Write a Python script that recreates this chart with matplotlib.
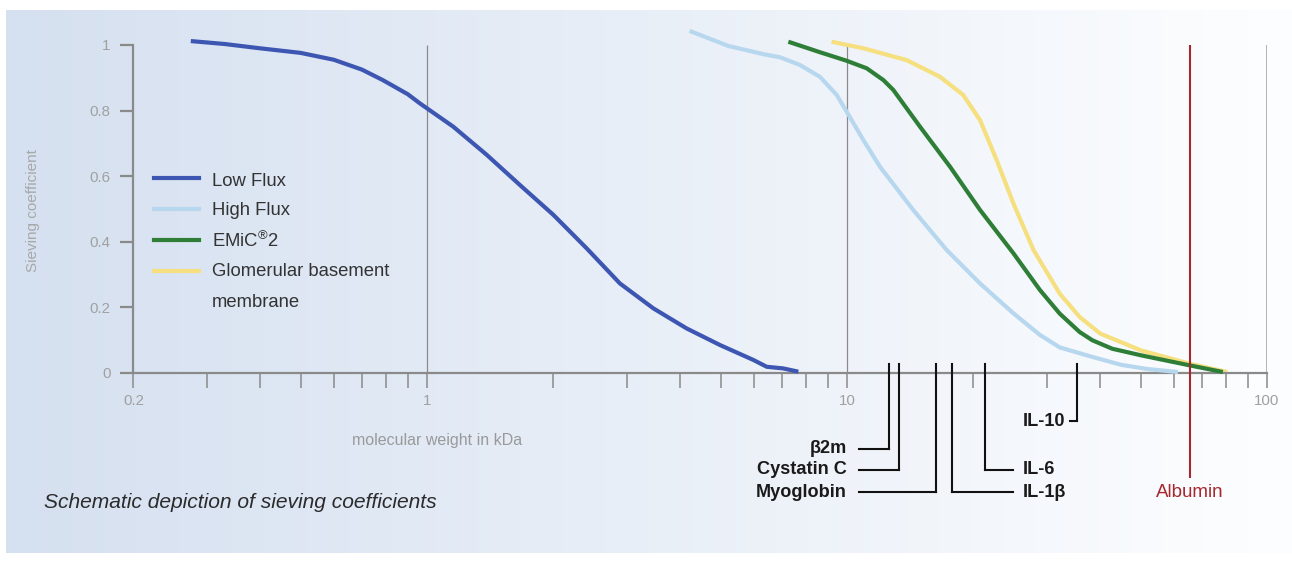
# Sieving coefficient curves vs molecular weight
import numpy as np
import matplotlib.pyplot as plt
from matplotlib.ticker import LogLocator, NullFormatter

plt.rcParams['font.family'] = ['Liberation Sans', 'DejaVu Sans']
plt.rcParams['mathtext.fontset'] = 'custom'
plt.rcParams['mathtext.rm'] = 'Liberation Sans'
plt.rcParams['mathtext.it'] = 'Liberation Sans'

# curves: molecular weight (kDa) and sieving coefficient
low_flux_x = [0.274, 0.33, 0.40, 0.50, 0.60, 0.70, 0.785, 0.90, 0.962, 1.155, 1.388, 1.665, 2.0, 2.40, 2.88, 3.46, 4.15, 4.99, 5.98, 6.44, 7.05, 7.66]
low_flux_y = [1.012, 1.003, 0.99, 0.976, 0.955, 0.925, 0.893, 0.85, 0.822, 0.751, 0.665, 0.573, 0.482, 0.380, 0.273, 0.197, 0.136, 0.085, 0.040, 0.019, 0.014, 0.004]

high_flux_x = [4.22, 5.22, 6.38, 6.93, 7.73, 8.62, 9.45, 9.98, 10.94, 11.98, 14.38, 17.27, 20.74, 24.9, 28.8, 32.1, 38.4, 44.9, 52.0, 61.4]
high_flux_y = [1.043, 0.997, 0.971, 0.9625, 0.939, 0.903, 0.848, 0.797, 0.710, 0.629, 0.497, 0.375, 0.273, 0.182, 0.116, 0.078, 0.049, 0.025, 0.012, 0.003]

emic2_x = [7.25, 8.62, 9.98, 11.14, 12.21, 12.89, 14.92, 17.59, 20.74, 24.9, 28.8, 32.1, 35.8, 38.4, 42.8, 50.1, 65.6, 78.5]
emic2_y = [1.010, 0.978, 0.952, 0.929, 0.893, 0.863, 0.751, 0.629, 0.497, 0.365, 0.253, 0.181, 0.125, 0.0997, 0.074, 0.054, 0.023, 0.003]

gbm_x = [9.19, 10.94, 13.87, 16.65, 18.9, 20.74, 22.72, 24.9, 27.8, 32.1, 35.8, 40.1, 50.1, 65.6, 80.4]
gbm_y = [1.010, 0.990, 0.954, 0.903, 0.848, 0.771, 0.649, 0.517, 0.375, 0.242, 0.171, 0.120, 0.069, 0.028, 0.003]

series_names = ['Low Flux', 'High Flux', 'EMiC$^{®}$2', 'Glomerular basement\nmembrane']
series_colors = ['#3d56b2', '#b7d7ef', '#2e7e38', '#f5df7e']

marker_names = ['β2m', 'Cystatin C', 'Myoglobin', 'IL-1β', 'IL-6', 'IL-10']
marker_kda = [12.6, 13.3, 16.3, 17.8, 21.3, 35.3]
albumin_kda = 65.5

# label layout for the markers (row height and side)
marker_rows = [-0.231, -0.295, -0.363, -0.363, -0.295, -0.147]
marker_side = ['left', 'left', 'left', 'right', 'right', 'left']

W, H = 1292, 561
fig = plt.figure(figsize=(W / 100, H / 100), dpi=100)


def fpx(x, y):
    return x / W, 1 - y / H


# gradient background panel
bg = fig.add_axes([0, 0, 1, 1], zorder=-1)
left_c = np.array([213, 224, 240]) / 255
right_c = np.array([253, 254, 255]) / 255
t = np.linspace(0, 1, 512)[:, None]
grad = (left_c * (1 - t) + right_c * t)[None, :, :]
bg.imshow(grad, extent=[6, W, 553, 10], aspect='auto', interpolation='bicubic')
bg.set_xlim(0, W)
bg.set_ylim(H, 0)
bg.axis('off')

ax = fig.add_axes([133.4 / W, (H - 373) / H, (1267 - 133.4) / W, 1.05 * 328 / H])
ax.patch.set_alpha(0)
ax.set_xscale('log')
ax.set_xlim(0.2, 100)
ax.set_ylim(0, 1.05)

axis_gray = '#8a8a8a'
for s in ['top', 'right']:
    ax.spines[s].set_visible(False)
ax.spines['left'].set_bounds(0, 1)
for s in ['left', 'bottom']:
    ax.spines[s].set_color(axis_gray)
    ax.spines[s].set_linewidth(1.6)

ax.set_xticks([0.2, 1, 10, 100])
ax.set_xticklabels(['0.2', '1', '10', '100'])
ax.xaxis.set_minor_locator(LogLocator(base=10, subs=[2, 3, 4, 5, 6, 7, 8, 9]))
ax.xaxis.set_minor_formatter(NullFormatter())
ax.set_yticks([0, 0.2, 0.4, 0.6, 0.8, 1])
ax.set_yticklabels(['0', '0.2', '0.4', '0.6', '0.8', '1'])
ax.tick_params(axis='x', which='both', direction='out', length=11, width=1.1,
               color=axis_gray, labelcolor='#a0a0a0', labelsize=10.8, pad=4)
ax.tick_params(axis='y', direction='out', length=9.5, width=1.6,
               color=axis_gray, labelcolor='#a0a0a0', labelsize=10.8, pad=7)

# vertical guide lines
ax.vlines([1, 10], 0, 1, colors=axis_gray, lw=0.9, zorder=1)
ax.vlines([100], 0, 1, colors='#b4b4b4', lw=1.4, zorder=1)

curves = [(low_flux_x, low_flux_y), (high_flux_x, high_flux_y), (emic2_x, emic2_y), (gbm_x, gbm_y)]
zorders = [5, 3, 4, 2]
for (xs, ys), c, z in zip(curves, series_colors, zorders):
    ax.plot(xs, ys, color=c, lw=3, solid_capstyle='butt', solid_joinstyle='round',
            zorder=z, clip_on=False)

# albumin line
red = '#a8262e'
ax.vlines(albumin_kda, -0.319, 1, colors=red, lw=1.5, zorder=6, clip_on=False)
ax.text(albumin_kda, -0.363, 'Albumin', color=red, fontsize=13.5, ha='center', va='center')

# marker lines and labels
lab = dict(va='center', fontsize=13.1, weight='bold', color='#1a1a1a')
for name, kda, row, side in zip(marker_names, marker_kda, marker_rows, marker_side):
    ax.plot([kda, kda], [0.028, row], color='#111111', lw=1.5, clip_on=False, zorder=6)
    if name == 'IL-10':
        ax.plot([34.0, kda], [row, row], color='#111111', lw=1.5, clip_on=False)
        ax.text(33.1, row, name, ha='right', **lab)
    elif side == 'left':
        ax.plot([10.71, kda], [row, row], color='#111111', lw=1.5, clip_on=False)
        ax.text(10.0, row, name, ha='right', **lab)
    else:
        ax.plot([kda, 24.9], [row, row], color='#111111', lw=1.5, clip_on=False)
        ax.text(26.2, row, name, ha='left', **lab)

# legend drawn by hand
handle_rows = [177.5, 209, 240, 271.5]
text_rows = [181, 210.5, 241, 272]
for name, c, hy, ty in zip(series_names, series_colors, handle_rows, text_rows):
    fig.add_artist(plt.Line2D([154 / W, 199 / W], [1 - hy / H] * 2, color=c, lw=3,
                              transform=fig.transFigure))
    for i, line in enumerate(name.split('\n')):
        fig.text(*fpx(212, ty + i * 30.5), line, fontsize=13.3, color='#333333', va='center')

ax.text(-0.0886, 0.473, 'Sieving coefficient', transform=ax.transAxes, rotation=90,
        ha='center', va='center', fontsize=11, color='#a8a8a8')
fig.text(*fpx(437, 440), 'molecular weight in kDa', ha='center', va='center',
         fontsize=11.5, color='#9a9a9a')
fig.text(*fpx(44, 502), 'Schematic depiction of sieving coefficients', ha='left', va='center',
         fontsize=15.1, style='italic', color='#2b2b2b')

fig.savefig('out.png', dpi=100)
